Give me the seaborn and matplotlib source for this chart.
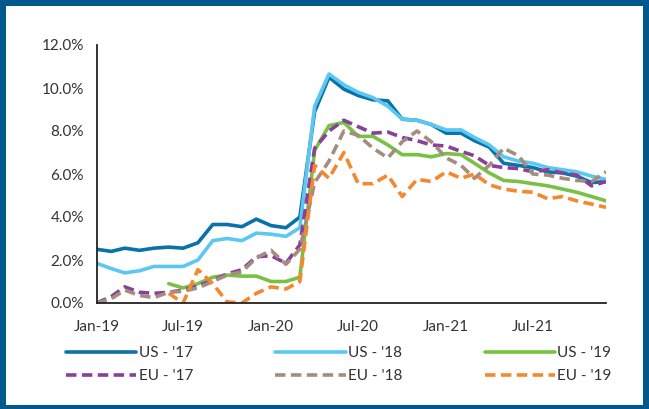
import numpy as np
import pandas as pd
import matplotlib
matplotlib.use("Agg")
import matplotlib.pyplot as plt
import matplotlib.dates as mdates
from matplotlib.ticker import PercentFormatter
from matplotlib.patches import Rectangle
import seaborn as sns

NaN = np.nan

MONTHS = pd.date_range("2019-01-01", periods=36, freq="MS")

us17 = [2.5, 2.4, 2.55, 2.45, 2.55, 2.6, 2.55, 2.8, 3.65, 3.65, 3.55, 3.9,
        3.6, 3.5, 4.0, 8.9, 10.5, 9.95, 9.65, 9.45, 9.4, 8.55, 8.5, 8.3,
        7.9, 7.9, 7.55, 7.25, 6.5, 6.4, 6.3, 6.1, 6.05, 5.9, 5.6, 5.65]
us18 = [1.85, 1.6, 1.4, 1.5, 1.7, 1.7, 1.7, 2.0, 2.9, 3.0, 2.9, 3.25,
        3.2, 3.1, 3.5, 9.15, 10.65, 10.15, 9.8, 9.55, 9.15, 8.55, 8.5, 8.3,
        8.05, 8.05, 7.7, 7.35, 6.8, 6.6, 6.5, 6.3, 6.2, 6.1, 5.9, 5.75]
us19 = [NaN, NaN, NaN, NaN, NaN, 0.9, 0.7, 0.9, 1.2, 1.3, 1.25, 1.25,
        1.0, 1.0, 1.2, 7.1, 8.25, 8.4, 7.75, 7.75, 7.35, 6.9, 6.9, 6.8,
        6.95, 6.9, 6.5, 6.05, 5.7, 5.65, 5.55, 5.45, 5.3, 5.15, 4.95, 4.75]
eu17 = [0.0, 0.3, 0.75, 0.5, 0.45, 0.5, 0.6, 0.8, 1.05, 1.35, 1.55, 2.15,
        2.2, 1.85, 2.7, 7.2, 8.0, 8.5, 8.2, 7.9, 7.95, 7.7, 7.55, 7.35,
        7.3, 7.05, 6.85, 6.4, 6.3, 6.25, 6.1, 6.2, 6.05, 5.95, 5.45, 5.65]
eu18 = [0.0, 0.2, 0.6, 0.35, 0.25, 0.5, 0.55, 0.7, 1.0, 1.3, 1.45, 2.1,
        2.45, 1.8, 2.5, 5.6, 6.6, 8.0, 7.8, 7.2, 6.75, 7.5, 8.0, 7.5,
        6.75, 6.4, 5.8, 6.4, 7.2, 6.85, 6.0, 5.95, 5.8, 5.7, 5.65, 6.1]
eu19 = [NaN, NaN, NaN, NaN, NaN, 0.45, 0.0, 1.55, 0.9, 0.05, 0.0, 0.45,
        0.75, 0.65, 1.0, 6.4, 5.8, 7.0, 5.55, 5.55, 5.95, 4.95, 5.75, 5.65,
        6.1, 5.8, 6.0, 5.5, 5.3, 5.2, 5.15, 4.85, 4.95, 4.75, 4.6, 4.45]

SERIES = ["US - '17", "US - '18", "US - '19", "EU - '17", "EU - '18", "EU - '19"]
VALUES = [us17, us18, us19, eu17, eu18, eu19]

COLORS = {
    "US - '17": "#0a72a8",
    "US - '18": "#5cc8f2",
    "US - '19": "#79c144",
    "EU - '17": "#8a3f98",
    "EU - '18": "#a48d7e",
    "EU - '19": "#f5882e",
}
DASHES = {s: ("" if s.startswith("US") else (2.9, 1.5)) for s in SERIES}
FRAME = "#00598c"


def build_frame():
    parts = []
    for name, vals in zip(SERIES, VALUES):
        parts.append(pd.DataFrame({"month": MONTHS, "value": vals, "series": name}))
    return pd.concat(parts, ignore_index=True).dropna()


def main():
    sns.set_style("white")
    plt.rcParams["font.family"] = ["Lato", "DejaVu Sans"]

    df = build_frame()

    fig = plt.figure(figsize=(6.49, 4.09), dpi=100)
    ax = fig.add_axes([96.5 / 649, 1 - 303 / 409, (606 - 96.5) / 649, (303 - 45) / 409])

    sns.lineplot(data=df, x="month", y="value", hue="series", style="series",
                 hue_order=SERIES, style_order=SERIES, palette=COLORS,
                 dashes=DASHES, linewidth=2.6, legend=False, ax=ax)

    ax.set_xlim(MONTHS[0], MONTHS[-1])
    ax.set_ylim(0, 12)
    ax.set_yticks(np.arange(0, 12.1, 2))
    ax.yaxis.set_major_formatter(PercentFormatter(xmax=100, decimals=1))
    ax.xaxis.set_major_locator(mdates.MonthLocator(bymonth=[1, 7]))
    ax.xaxis.set_major_formatter(mdates.DateFormatter("%b-%y"))
    ax.set_xlabel("")
    ax.set_ylabel("")

    for side in ["top", "right"]:
        ax.spines[side].set_visible(False)
    for side in ["left", "bottom"]:
        ax.spines[side].set_color("#222222")
        ax.spines[side].set_linewidth(1.3)
    ax.tick_params(axis="both", direction="out", length=4, width=1.3,
                   color="#222222", labelsize=11, labelcolor="#333333", pad=5)
    ax.tick_params(axis="x", pad=8)

    # legend fills by column, so interleave to read row by row like the original
    lines = dict(zip(SERIES, ax.get_lines()[:len(SERIES)]))
    order = ["US - '17", "EU - '17", "US - '18", "EU - '18", "US - '19", "EU - '19"]
    fig.legend([lines[s] for s in order], order, loc="upper left",
               bbox_to_anchor=(66 / 649, 1 - 346 / 409),
               ncol=3, frameon=False, fontsize=11, handlelength=4.6, handletextpad=0.15,
               columnspacing=5.4, labelspacing=0.62, borderpad=0, borderaxespad=0,
               labelcolor="#333333")

    # dark blue frame round the panel
    for x, y, w, h in [(0, 1 - 6 / 409, 1, 6 / 409), (0, 0, 6 / 649, 1),
                       (1 - 6 / 649, 0, 6 / 649, 1), (0, 0, 1, 4 / 409)]:
        fig.patches.append(Rectangle((x, y), w, h, transform=fig.transFigure,
                                     facecolor=FRAME, edgecolor="none"))

    fig.savefig("out.png", dpi=100)


if __name__ == "__main__":
    main()
